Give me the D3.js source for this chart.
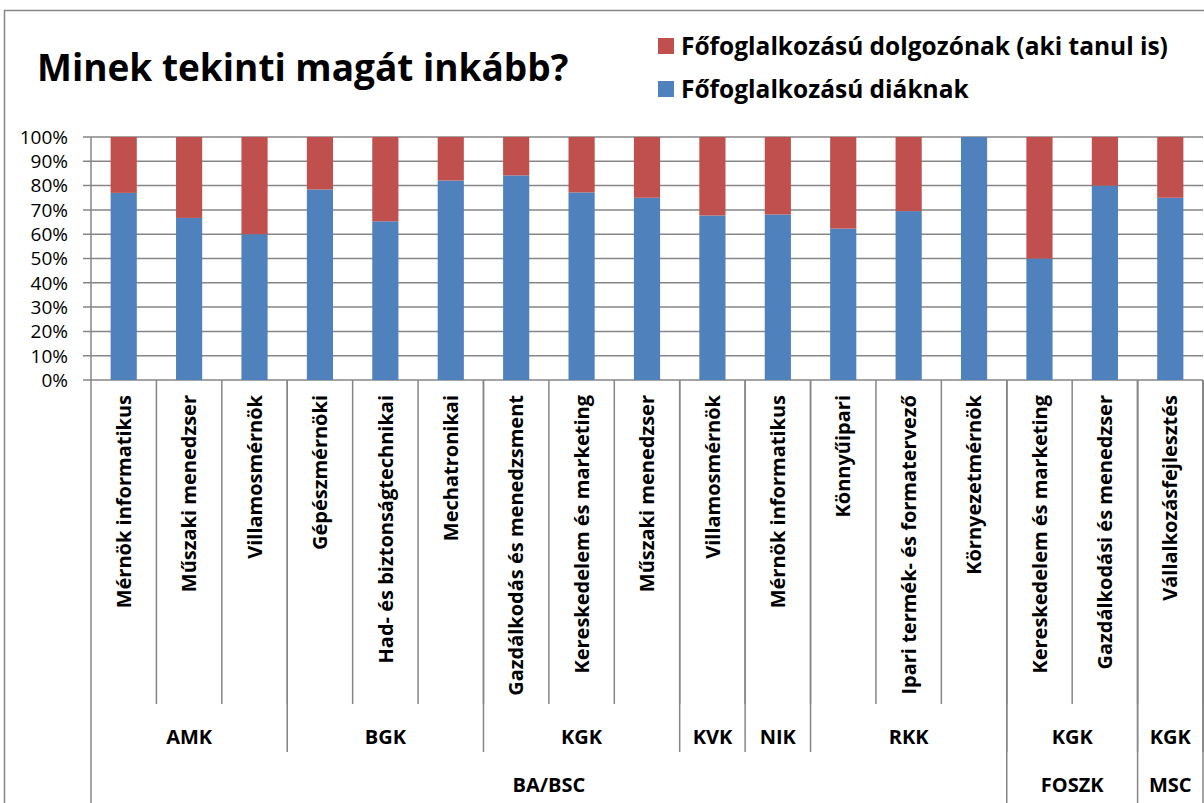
<!DOCTYPE html>
<html>
<head>
<meta charset="utf-8">
<script src="https://cdn.jsdelivr.net/npm/d3@7"></script>
<style>
	body { margin: 0; background: #fff; }
	text { font-family: "Open Sans", "Noto Sans", sans-serif; fill: #000; }
</style>
</head>
<body>

<svg width="1204" height="803"></svg>

<script type="text/javascript">

	// categories (szak)
	var categories = [
		"Mérnök informatikus", "Műszaki menedzser", "Villamosmérnök",
		"Gépészmérnöki", "Had- és biztonságtechnikai", "Mechatronikai",
		"Gazdálkodás és menedzsment", "Kereskedelem és marketing", "Műszaki menedzser",
		"Villamosmérnök", "Mérnök informatikus",
		"Könnyűipari", "Ipari termék- és formatervező", "Környezetmérnök",
		"Kereskedelem és marketing", "Gazdálkodási és menedzser",
		"Vállalkozásfejlesztés"
	];

	// faculty groups: [label, first index, last index + 1]
	var faculties = [
		["AMK", 0, 3], ["BGK", 3, 6], ["KGK", 6, 9], ["KVK", 9, 10],
		["NIK", 10, 11], ["RKK", 11, 14], ["KGK", 14, 16], ["KGK", 16, 17]
	];

	// level groups
	var levels = [
		["BA/BSC", 0, 14], ["FOSZK", 14, 16], ["MSC", 16, 17]
	];

	// percentages
	var diak = [77, 66.7, 60, 78.4, 65.3, 82.1, 84.2, 77.2, 75, 67.7, 68.1, 62.3, 69.5, 100, 50, 80, 75];
	var dolgozo = [23, 33.3, 40, 21.6, 34.7, 17.9, 15.8, 22.8, 25, 32.3, 31.9, 37.7, 30.5, 0, 50, 20, 25];

	var seriesNames = ["Főfoglalkozású diáknak", "Főfoglalkozású dolgozónak (aki tanul is)"];
	var colors = ["#4F81BD", "#C0504D"];

	var yTicks = [0, 10, 20, 30, 40, 50, 60, 70, 80, 90, 100];

	var svg = d3.select("svg");
	var grid = "#868686";

	var plotLeft = 91, plotRight = 1203, plotTop = 137, plotBottom = 380;

	// outer border
	svg.append("rect")
		.attr("x", 4.5).attr("y", 10.5)
		.attr("width", 1210).attr("height", 820)
		.attr("fill", "none")
		.attr("stroke", grid)
		.attr("stroke-width", 1.5);

	var rows = categories.map(function(c, i) {
		return { key: i, diak: diak[i], dolgozo: dolgozo[i] };
	});

	var x = d3.scaleBand()
		.domain(d3.range(categories.length))
		.range([plotLeft, plotRight])
		.paddingInner(0.6)
		.paddingOuter(0.3);

	var step = x.step();
	// left edge of the category slot i
	function edge(i) { return x(i) - (step - x.bandwidth()) / 2; }

	var y = d3.scaleLinear().domain([0, 100]).range([plotBottom, plotTop]);

	// gridlines
	svg.append("g").selectAll("line").data(yTicks).enter()
		.append("line")
		.attr("x1", plotLeft - 8).attr("x2", plotRight)
		.attr("y1", function(d) { return y(d); })
		.attr("y2", function(d) { return y(d); })
		.attr("stroke", grid).attr("stroke-width", 1.5);

	// y labels
	svg.append("g").selectAll("text").data(yTicks).enter()
		.append("text")
		.attr("x", 68)
		.attr("y", function(d) { return y(d); })
		.attr("dy", "0.36em")
		.attr("text-anchor", "end")
		.attr("font-size", 19)
		.text(function(d) { return d + "%"; });

	// stacked bars
	var stack = d3.stack().keys(["diak", "dolgozo"]);
	var layers = stack(rows);

	svg.append("g").selectAll("g").data(layers).enter()
		.append("g")
		.attr("fill", function(d, i) { return colors[i]; })
		.selectAll("rect").data(function(d) { return d; }).enter()
		.append("rect")
		.attr("x", function(d) { return x(d.data.key); })
		.attr("width", x.bandwidth())
		.attr("y", function(d) { return y(d[1]); })
		.attr("height", function(d) { return y(d[0]) - y(d[1]); });

	// y axis line
	svg.append("line")
		.attr("x1", plotLeft).attr("x2", plotLeft)
		.attr("y1", plotTop).attr("y2", 803)
		.attr("stroke", grid).attr("stroke-width", 1.5);

	// category separators
	svg.append("g").selectAll("line").data(d3.range(1, categories.length + 1)).enter()
		.append("line")
		.attr("x1", function(d) { return edge(0) + d * step; })
		.attr("x2", function(d) { return edge(0) + d * step; })
		.attr("y1", plotBottom)
		.attr("y2", 704)
		.attr("stroke", grid).attr("stroke-width", 1.5);

	// faculty separators
	svg.append("g").selectAll("line").data(faculties).enter()
		.append("line")
		.attr("x1", function(d) { return edge(0) + d[2] * step; })
		.attr("x2", function(d) { return edge(0) + d[2] * step; })
		.attr("y1", plotBottom).attr("y2", 752)
		.attr("stroke", grid).attr("stroke-width", 1.5);

	// level separators
	svg.append("g").selectAll("line").data(levels).enter()
		.append("line")
		.attr("x1", function(d) { return edge(0) + d[2] * step; })
		.attr("x2", function(d) { return edge(0) + d[2] * step; })
		.attr("y1", plotBottom).attr("y2", 803)
		.attr("stroke", grid).attr("stroke-width", 1.5);

	// category labels
	svg.append("g").selectAll("text").data(categories).enter()
		.append("text")
		.attr("transform", function(d, i) {
			return "translate(" + (x(i) + x.bandwidth() / 2) + ",395) rotate(-90)";
		})
		.attr("dy", "0.36em")
		.attr("text-anchor", "end")
		.attr("font-size", 20)
		.attr("font-weight", "bold")
		.text(function(d) { return d; });

	// faculty labels
	svg.append("g").selectAll("text").data(faculties).enter()
		.append("text")
		.attr("x", function(d) { return edge(0) + (d[1] + d[2]) / 2 * step; })
		.attr("y", 737)
		.attr("dy", "0.36em")
		.attr("text-anchor", "middle")
		.attr("font-size", 20)
		.attr("font-weight", "bold")
		.text(function(d) { return d[0]; });

	// level labels
	svg.append("g").selectAll("text").data(levels).enter()
		.append("text")
		.attr("x", function(d) { return edge(0) + (d[1] + d[2]) / 2 * step; })
		.attr("y", 785)
		.attr("dy", "0.36em")
		.attr("text-anchor", "middle")
		.attr("font-size", 20)
		.attr("font-weight", "bold")
		.text(function(d) { return d[0]; });

	// title
	svg.append("text")
		.attr("x", 37).attr("y", 81)
		.attr("font-size", 37)
		.attr("font-weight", "bold")
		.text("Minek tekinti magát inkább?");

	// legend (red on top)
	var legendItems = [1, 0];
	var lg = svg.append("g").selectAll("g").data(legendItems).enter()
		.append("g")
		.attr("transform", function(d, i) { return "translate(658," + (46 + i * 43) + ")"; });

	lg.append("rect")
		.attr("x", 0).attr("y", -8)
		.attr("width", 16).attr("height", 16)
		.attr("fill", function(d) { return colors[d]; });

	lg.append("text")
		.attr("x", 23).attr("y", 0)
		.attr("dy", "0.36em")
		.attr("font-size", 24.5)
		.attr("font-weight", "bold")
		.text(function(d) { return seriesNames[d]; });

</script>
</body>
</html>
